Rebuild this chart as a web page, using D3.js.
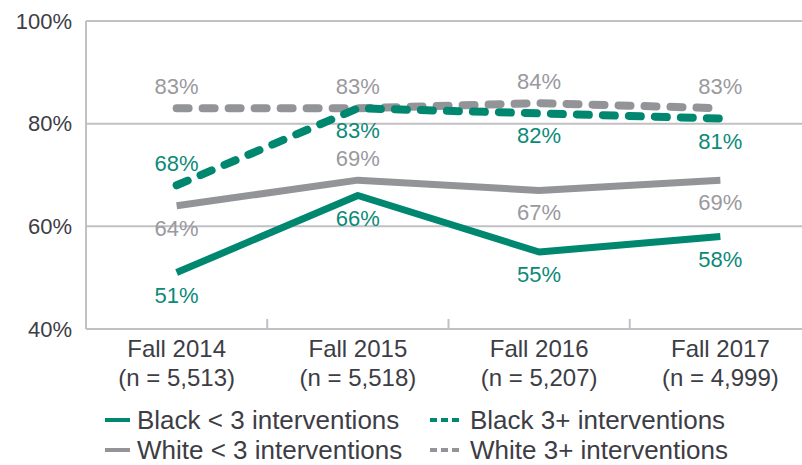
<!DOCTYPE html>
<html lang="en">
<head>
<meta charset="UTF-8">
<script src="https://cdn.jsdelivr.net/npm/d3@7"></script>
<style>
    body{margin:0;background:#fff;}
    text{font-family:"Liberation Sans",Arial,sans-serif;}
</style>
<title>Interventions</title>
</head>
<body>
<svg id="chart"></svg>
<script>
    // data
    var categories = ["Fall 2014", "Fall 2015", "Fall 2016", "Fall 2017"];
    var counts = ["(n = 5,513)", "(n = 5,518)", "(n = 5,207)", "(n = 4,999)"];
    var blackLow = [51, 66, 55, 58];
    var blackHigh = [68, 83, 82, 81];
    var whiteLow = [64, 69, 67, 69];
    var whiteHigh = [83, 83, 84, 83];
    var yTicks = [40, 60, 80, 100];
    // where each data label sits relative to its point
    var blackLowPos = ["below", "below", "below", "below"];
    var blackHighPos = ["above", "below", "below", "below"];
    var whiteLowPos = ["below", "above", "below", "below"];
    var whiteHighPos = ["above", "above", "above", "above"];

    var teal = "#00876f", grey = "#939498", tealText = "#0b8a78", greyText = "#9a99a0";
    var width = 802, height = 465;
    var plotLeft = 86, plotTop = 21, plotBottom = 329, plotRight = 811;

    var svg = d3.select("#chart").attr("width", width).attr("height", height);

    var x = d3.scaleBand().domain(categories).range([plotLeft, plotRight]).paddingInner(0).paddingOuter(0);
    var y = d3.scaleLinear().domain([40, 100]).range([plotBottom, plotTop]);

    // grid + frame
    var grid = svg.append("g");
    yTicks.forEach(function(t){
        grid.append("line")
            .attr("x1", plotLeft).attr("x2", width + 10)
            .attr("y1", y(t)).attr("y2", y(t))
            .attr("stroke", "#c1c1c5").attr("stroke-width", 2);
    });
    grid.append("line")
        .attr("x1", plotLeft).attr("x2", plotLeft)
        .attr("y1", plotTop).attr("y2", plotBottom)
        .attr("stroke", "#c1c1c5").attr("stroke-width", 2);
    categories.slice(1).forEach(function(c){
        grid.append("line")
            .attr("x1", x(c)).attr("x2", x(c))
            .attr("y1", plotBottom - 10).attr("y2", plotBottom)
            .attr("stroke", "#c1c1c5").attr("stroke-width", 2);
    });

    // y axis labels
    var yAxis = svg.append("g")
        .attr("transform", "translate(" + (plotLeft - 14) + ",0)")
        .call(d3.axisLeft(y).tickValues(yTicks).tickSize(0).tickPadding(0).tickFormat(function(d){ return d + "%"; }));
    yAxis.select(".domain").remove();
    yAxis.selectAll("text")
        .attr("font-family", "Liberation Sans, Arial, sans-serif")
        .attr("font-size", 22).attr("fill", "#3d3d45");

    // x axis labels
    var xAxis = svg.append("g").attr("transform", "translate(0," + plotBottom + ")");
    categories.forEach(function(c, i){
        var cx = x(c) + x.bandwidth() / 2;
        var t = xAxis.append("text")
            .attr("text-anchor", "middle")
            .attr("font-size", 24).attr("fill", "#3d3d45");
        t.append("tspan").attr("x", cx).attr("y", 28).text(c);
        t.append("tspan").attr("x", cx).attr("y", 57).text(counts[i]);
    });

    var line = d3.line()
        .x(function(d, i){ return x(categories[i]) + x.bandwidth() / 2; })
        .y(function(d){ return y(d); });

    var series = [
        {vals: whiteHigh, pos: whiteHighPos, color: grey, text: greyText, dash: true},
        {vals: blackHigh, pos: blackHighPos, color: teal, text: tealText, dash: true},
        {vals: whiteLow, pos: whiteLowPos, color: grey, text: greyText, dash: false},
        {vals: blackLow, pos: blackLowPos, color: teal, text: tealText, dash: false}
    ];

    series.forEach(function(s){
        svg.append("path")
            .attr("d", line(s.vals))
            .attr("fill", "none")
            .attr("stroke", s.color)
            .attr("stroke-width", s.dash ? 8 : 7)
            .attr("stroke-linecap", s.dash ? "round" : "butt")
            .attr("stroke-linejoin", "round")
            .attr("stroke-dasharray", s.dash ? "12,14" : null);
    });
    series.forEach(function(s){
        s.vals.forEach(function(v, i){
            svg.append("text")
                .attr("x", x(categories[i]) + x.bandwidth() / 2)
                .attr("y", y(v) + (s.pos[i] == "above" ? -14 : 30))
                .attr("text-anchor", "middle")
                .attr("font-size", 22)
                .attr("fill", s.text)
                .text(v + "%");
        });
    });

    // legend
    var legendItems = [
        {name: "Black < 3 interventions", color: teal, dash: false, col: 0, row: 0},
        {name: "Black 3+ interventions", color: teal, dash: true, col: 1, row: 0},
        {name: "White < 3 interventions", color: grey, dash: false, col: 0, row: 1},
        {name: "White 3+ interventions", color: grey, dash: true, col: 1, row: 1}
    ];
    var legend = svg.append("g");
    legendItems.forEach(function(d){
        var lx = d.col == 0 ? 105 : 430;
        var ly = d.row == 0 ? 420 : 450;
        legend.append("line")
            .attr("x1", lx).attr("x2", lx + (d.dash ? 30 : 25))
            .attr("y1", ly).attr("y2", ly)
            .attr("stroke", d.color).attr("stroke-width", 4)
            .attr("stroke-dasharray", d.dash ? "7,4" : null);
        legend.append("text")
            .attr("x", lx + (d.dash ? 40 : 32)).attr("y", ly + 9)
            .attr("font-size", 26).attr("fill", "#3d3d45")
            .text(d.name);
    });
</script>
</body>
</html>
